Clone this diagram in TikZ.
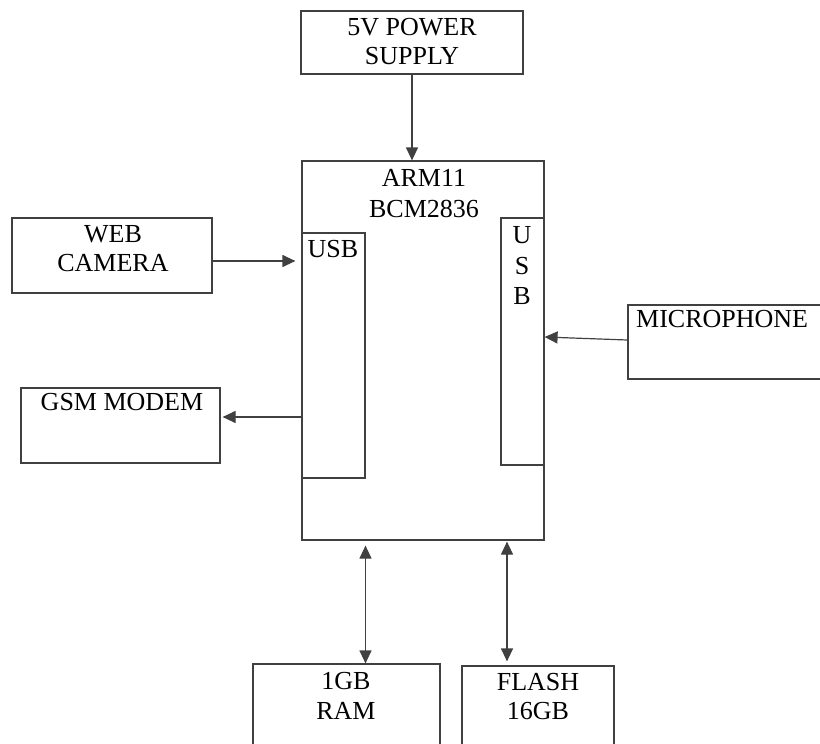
\documentclass[tikz,border=0pt]{standalone}
\usepackage{fontspec}
\setmainfont{Liberation Serif}
\usetikzlibrary{arrows.meta}
\definecolor{linegray}{HTML}{404040}
\tikzset{
  block/.style = {draw = linegray, line width = 1.2pt, inner sep = 0pt},
  words/.style = {align = center, inner sep = 0pt, text = black},
  oneway/.style = {draw = linegray, line width = 1.2pt, -{Triangle[length = 13pt, width = 12pt]}},
  twoway/.style = {draw = linegray, line width = 1.2pt, {Triangle[length = 13pt, width = 12pt]}-{Triangle[length = 13pt, width = 12pt]}}
}
\begin{document}
\begin{tikzpicture}[x = 1pt, y = -1pt, font = \fontsize{26}{29}\selectfont]
\clip (0,0) rectangle (820,744);
% boxes
\node [block, minimum width = 222pt, minimum height = 63pt] (psu) at (412,42.5) {};
\node [block, minimum width = 242pt, minimum height = 379pt] (arm) at (423,350.5) {};
\node [block, minimum width = 63pt, minimum height = 245pt] (usbleft) at (333.5,355.5) {};
\node [block, minimum width = 43pt, minimum height = 247pt] (usbright) at (522.5,341.5) {};
\node [block, minimum width = 200pt, minimum height = 75pt] (cam) at (112,255.5) {};
\node [block, minimum width = 199pt, minimum height = 75pt] (gsm) at (120.5,425.5) {};
\node [block, minimum width = 240pt, minimum height = 74pt] (mic) at (748,342) {};
\node [block, minimum width = 187pt, minimum height = 100pt] (ram) at (346.5,714) {};
\node [block, minimum width = 152pt, minimum height = 100pt] (flash) at (538,716) {};
% texts
\node [words] (psutext) at (412,42) {5V POWER\\SUPPLY};
\node [words, font = \fontsize{26}{31}\selectfont] (armtext) at (424,193.5) {ARM11\\BCM2836};
\node [words] (usblefttext) at (333,249) {USB};
\node [words, font = \fontsize{26}{30.5}\selectfont] (usbrighttext) at (522,266) {U\\S\\B};
\node [words] (camtext) at (113,249) {WEB\\CAMERA};
\node [words] (gsmtext) at (122,402) {GSM MODEM};
\node [words, anchor = west] (mictext) at (636,319) {MICROPHONE};
\node [words, font = \fontsize{26}{30}\selectfont] (ramtext) at (346,696) {1GB\\RAM};
\node [words] (flashtext) at (538,697) {FLASH\\16GB};
% connectors
\coordinate (camout) at ([yshift = -5.5pt]cam.east);
\coordinate (gsmin) at ([yshift = 8.5pt]gsm.east);
\coordinate (micout) at ([yshift = 2pt]mic.west);
\coordinate (ramtop) at ([xshift = 19pt]ram.north);
\coordinate (flashtop) at ([xshift = -31pt]flash.north);
\draw [oneway] (psu.south) -- (psu.south |- arm.north);
\draw [oneway, shorten > = 6pt] (camout) -- (camout -| usbleft.west);
\draw [oneway, shorten > = 2pt] (gsmin -| arm.west) -- (gsmin);
\draw [oneway] (micout) -- ([yshift = 3pt]micout -| arm.east);
\draw [twoway, shorten < = 5pt] (ramtop |- arm.south) -- (ramtop);
\draw [twoway, shorten < = 1pt, shorten > = 4pt] (flashtop |- arm.south) -- (flashtop);
\end{tikzpicture}
\end{document}
